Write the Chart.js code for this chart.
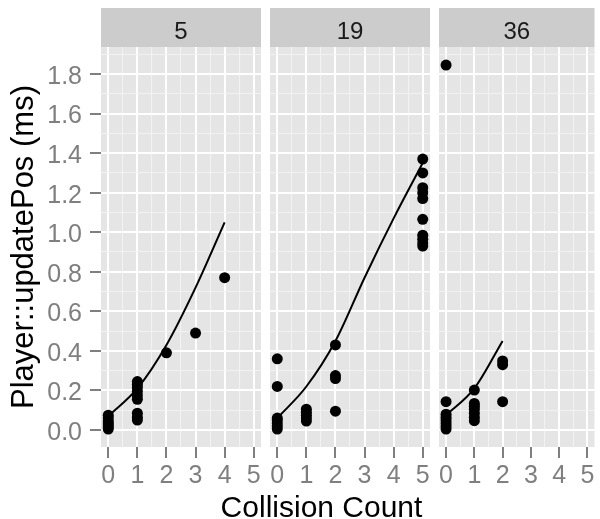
<!DOCTYPE html>
<html><head><meta charset="utf-8">
<script src="https://cdn.jsdelivr.net/npm/chart.js@4.4.1/dist/chart.umd.min.js"></script>
<style>
html,body{margin:0;padding:0;background:#fff;}
#wrap{position:relative;width:600px;height:519px;overflow:hidden;background:#fff;}
#wrap canvas{position:absolute;left:0;top:0;}
</style></head><body>
<div id="wrap">
<canvas id="c0" width="600" height="519"></canvas>
<canvas id="c1" width="600" height="519"></canvas>
<canvas id="c2" width="600" height="519"></canvas>
</div>
<script>
// ---- data ----
const facetLabels = ['5', '19', '36'];
const xTickValues = [0, 1, 2, 3, 4, 5];
const xTickLabels = ['0', '1', '2', '3', '4', '5'];
const xMinorValues = [0.5, 1.5, 2.5, 3.5, 4.5];
const yTickValues = [0, 0.2, 0.4, 0.6, 0.8, 1.0, 1.2, 1.4, 1.6, 1.8];
const yTickLabels = ['0.0', '0.2', '0.4', '0.6', '0.8', '1.0', '1.2', '1.4', '1.6', '1.8'];
const yMinorValues = [0.1, 0.3, 0.5, 0.7, 0.9, 1.1, 1.3, 1.5, 1.7, 1.9];
const xTitle = 'Collision Count';
const yTitle = 'Player::updatePos (ms)';

const p5X = [0, 0, 0, 0, 0, 0, 0, 1, 1, 1, 1, 1, 1, 1, 1, 1, 2, 3, 4];
const p5Y = [0.005, 0.015, 0.025, 0.035, 0.045, 0.06, 0.075, 0.05, 0.065, 0.085, 0.155, 0.175, 0.195, 0.215, 0.23, 0.245, 0.39, 0.49, 0.77];
const fit5X = [0, 1, 2, 3, 4];
const fit5Y = [0.07, 0.21, 0.43, 0.72, 1.05];

const p19X = [0, 0, 0, 0, 0, 0, 0, 1, 1, 1, 1, 1, 2, 2, 2, 2, 5, 5, 5, 5, 5, 5, 5, 5, 5, 5];
const p19Y = [0.005, 0.02, 0.035, 0.05, 0.06, 0.22, 0.36, 0.045, 0.06, 0.075, 0.09, 0.105, 0.43, 0.275, 0.26, 0.095, 1.37, 1.30, 1.225, 1.20, 1.17, 1.065, 0.985, 0.965, 0.945, 0.93];
const fit19X = [0, 1, 2, 3, 4, 5];
const fit19Y = [0.06, 0.22, 0.45, 0.77, 1.07, 1.35];

const p36X = [0, 0, 0, 0, 0, 0, 0, 0, 1, 1, 1, 1, 1, 1, 1, 2, 2, 2];
const p36Y = [1.845, 0.143, 0.005, 0.02, 0.035, 0.05, 0.065, 0.08, 0.202, 0.047, 0.065, 0.085, 0.105, 0.12, 0.134, 0.349, 0.33, 0.143];
const fit36X = [0, 1, 2];
const fit36Y = [0.075, 0.21, 0.45];

// ---- layout ----
const panelLefts = [101, 270, 439];
const panelWidth = 160;
const canvasW = 600, canvasH = 519;
const panelTop = 47, panelBottom = 447, stripTop = 8;
const FONT = '"Liberation Sans", Arial, Helvetica, sans-serif';

const near = (a, b) => Math.abs(a - b) < 1e-6;
const isXMajor = v => xTickValues.some(t => near(t, v));
const isYMajor = v => yTickValues.some(t => near(t, v));

const facetPlugin = {
  id: 'facet',
  beforeDraw(chart, args, opts) {
    const {ctx, chartArea: a} = chart;
    ctx.save();
    ctx.fillStyle = '#E5E5E5';
    ctx.fillRect(a.left, a.top, a.right - a.left, a.bottom - a.top);
    ctx.fillStyle = '#CCCCCC';
    ctx.fillRect(a.left, stripTop, a.right - a.left, a.top - stripTop);
    ctx.fillStyle = '#1A1A1A';
    ctx.font = '24px ' + FONT;
    ctx.textAlign = 'center';
    ctx.textBaseline = 'alphabetic';
    ctx.fillText(opts.label, (a.left + a.right) / 2, 38.5);
    ctx.restore();
  },
  afterDraw(chart, args, opts) {
    if (!opts.xTitle) return;
    const ctx = chart.ctx;
    ctx.save();
    ctx.fillStyle = '#000000';
    ctx.font = '30px ' + FONT;
    ctx.textAlign = 'center';
    ctx.textBaseline = 'alphabetic';
    ctx.fillText(opts.xTitle, 321.5, 516.5);
    ctx.restore();
  }
};

function makePanel(idx, xs, ys, fx, fy) {
  const first = idx === 0;
  const pts = xs.map((x, i) => ({x: x, y: ys[i]}));
  const fit = fx.map((x, i) => ({x: x, y: fy[i]}));
  const left = panelLefts[idx];
  const xAll = xTickValues.concat(xMinorValues).sort((a, b) => a - b);
  const yAll = yTickValues.concat(yMinorValues).sort((a, b) => a - b);
  new Chart(document.getElementById('c' + idx), {
    type: 'scatter',
    data: {
      datasets: [
        {data: fit, showLine: true, borderColor: '#000', borderWidth: 2, pointRadius: 0, tension: 0.35, cubicInterpolationMode: 'monotone', fill: false},
        {data: pts, backgroundColor: '#000', borderWidth: 0, pointRadius: 5.5, pointHoverRadius: 5.5}
      ]
    },
    options: {
      responsive: false, animation: false, devicePixelRatio: 1,
      layout: {padding: {left: first ? 0 : left, right: canvasW - left - panelWidth, top: panelTop, bottom: 0}},
      plugins: {legend: {display: false}, tooltip: {enabled: false}, facet: {label: facetLabels[idx], xTitle: first ? xTitle : null}},
      scales: {
        x: {
          type: 'linear', min: -0.25, max: 5.25,
          afterBuildTicks: s => { s.ticks = xAll.map(v => ({value: v})); },
          afterFit: s => { s.height = canvasH - panelBottom; },
          border: {display: false},
          grid: {
            color: c => isXMajor(c.tick.value) ? '#FFFFFF' : '#F2F2F2',
            lineWidth: c => isXMajor(c.tick.value) ? 2 : 1.1,
            drawTicks: true, tickLength: 11, tickWidth: 2,
            tickColor: c => isXMajor(c.tick.value) ? '#7F7F7F' : 'rgba(0,0,0,0)'
          },
          ticks: {
            autoSkip: false, maxRotation: 0, minRotation: 0, padding: 3,
            color: '#7F7F7F', font: {family: FONT, size: 25},
            callback: v => { const i = xTickValues.findIndex(t => near(t, v)); return i >= 0 ? xTickLabels[i] : ''; }
          }
        },
        y: {
          type: 'linear', min: -0.086, max: 1.9365,
          afterBuildTicks: s => { s.ticks = yAll.map(v => ({value: v})); },
          afterFit: s => { s.width = first ? panelLefts[0] : 0; },
          border: {display: false},
          grid: {
            color: c => isYMajor(c.tick.value) ? '#FFFFFF' : '#F2F2F2',
            lineWidth: c => isYMajor(c.tick.value) ? 2 : 1.1,
            drawTicks: first, tickLength: 11, tickWidth: 2,
            tickColor: c => isYMajor(c.tick.value) ? '#7F7F7F' : 'rgba(0,0,0,0)'
          },
          ticks: {
            display: first, autoSkip: false, padding: 8, labelOffset: 3,
            color: '#7F7F7F', font: {family: FONT, size: 25},
            callback: v => { const i = yTickValues.findIndex(t => near(t, v)); return i >= 0 ? yTickLabels[i] : ''; }
          },
          title: {display: first, text: yTitle, color: '#000', font: {family: FONT, size: 31}, padding: {top: 6, bottom: 0}}
        }
      }
    },
    plugins: [facetPlugin]
  });
}

makePanel(0, p5X, p5Y, fit5X, fit5Y);
makePanel(1, p19X, p19Y, fit19X, fit19Y);
makePanel(2, p36X, p36Y, fit36X, fit36Y);
</script>
</body></html>
